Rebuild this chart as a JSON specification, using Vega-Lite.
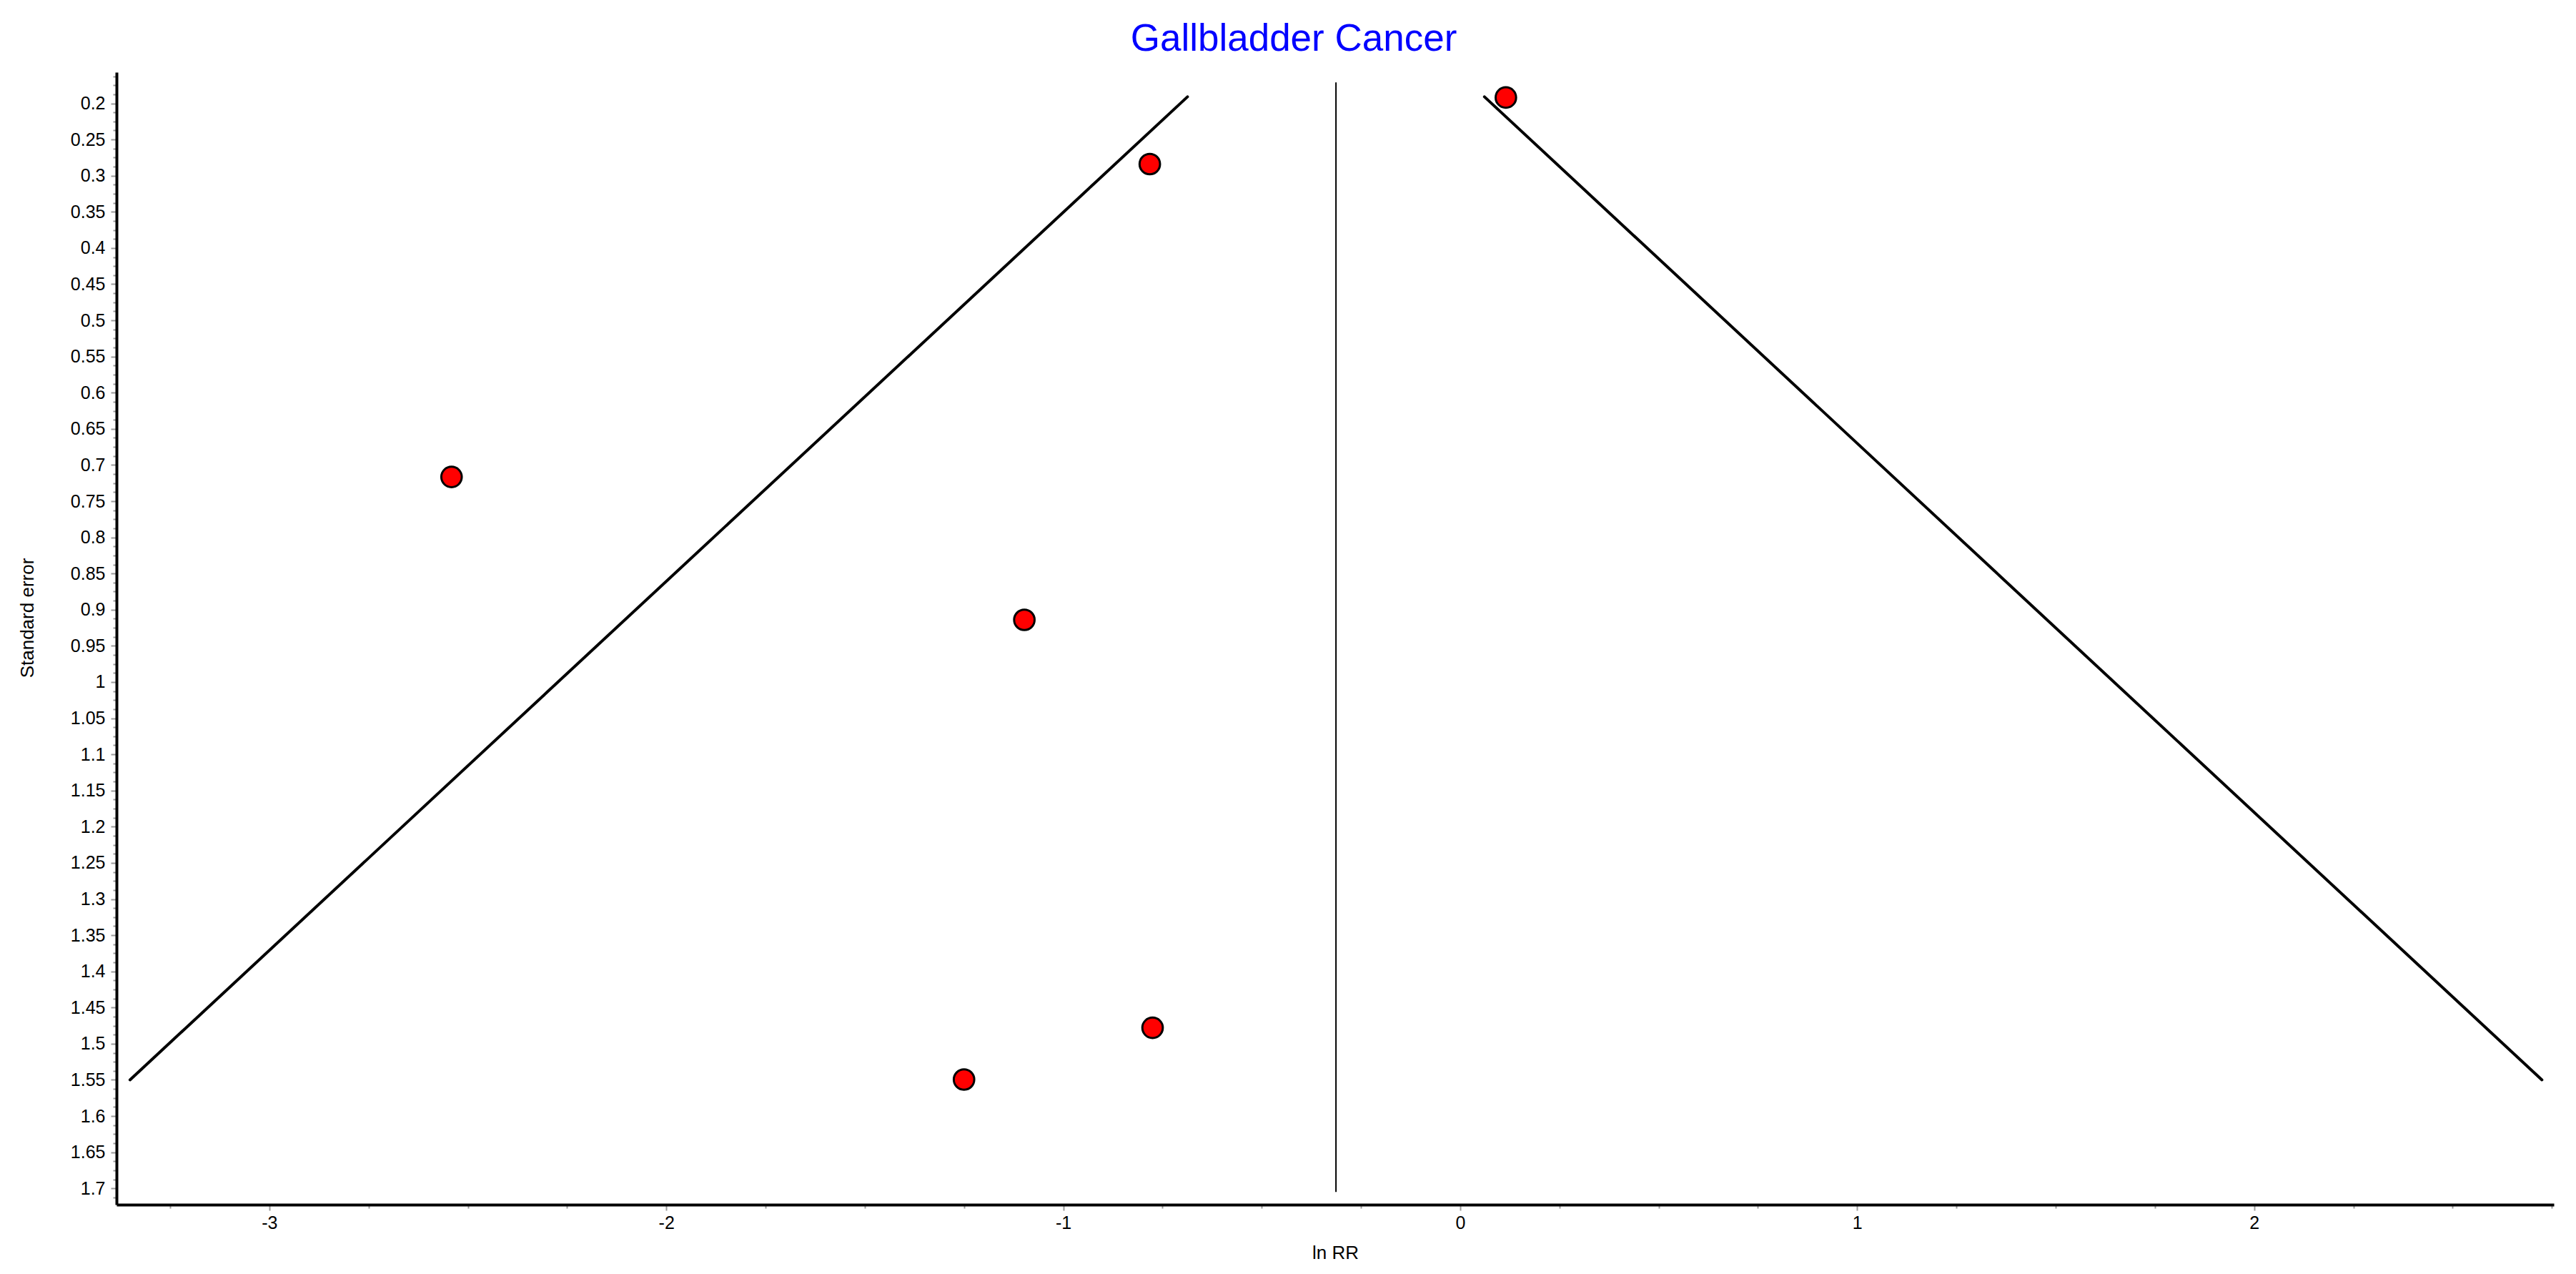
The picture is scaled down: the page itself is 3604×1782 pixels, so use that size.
{
  "$schema": "https://vega.github.io/schema/vega-lite/v6.json",
  "width": 3410,
  "height": 1584,
  "autosize": {"type": "none"},
  "padding": {"left": 163, "top": 101, "right": 31, "bottom": 97},
  "background": "white",
  "config": {
    "view": {"stroke": null},
    "font": "Liberation Sans",
    "axis": {"grid": false}
  },
  "title": {
    "text": "Gallbladder Cancer",
    "font": "Liberation Sans",
    "fontSize": 53,
    "fontWeight": "normal",
    "color": "#0000FF",
    "anchor": "middle",
    "baseline": "alphabetic",
    "offset": 27,
    "dx": -58,
    "dy": 50
  },
  "datasets": {
    "funnel": [
      {"x": -0.687, "se": 0.191, "x2": -3.351, "se2": 1.55},
      {"x": 0.061, "se": 0.191, "x2": 2.725, "se2": 1.55}
    ],
    "center": [
      {"x": -0.313, "se": 0.171, "se2": 1.705}
    ],
    "studies": [
      {"lnRR": 0.115, "se": 0.192},
      {"lnRR": -0.782, "se": 0.284},
      {"lnRR": -2.541, "se": 0.7165},
      {"lnRR": -1.098, "se": 0.914},
      {"lnRR": -0.775, "se": 1.478},
      {"lnRR": -1.25, "se": 1.5495}
    ]
  },
  "resolve": {"scale": {"x": "shared", "y": "shared"}, "axis": {"x": "independent", "y": "independent"}},
  "layer": [
    {
      "data": {"name": "funnel"},
      "mark": {"type": "rule", "color": "black", "strokeWidth": 4, "strokeCap": "round"},
      "encoding": {
        "x": {
          "field": "x", "type": "quantitative",
          "scale": {"domain": [-3.385, 2.755], "nice": false, "zero": false},
          "axis": {
            "orient": "bottom", "title": null, "domain": false, "labels": false, "grid": false,
            "ticks": true, "tickColor": "#9a9a9a", "tickSize": 5, "tickWidth": 2,
            "values": [-3.25, -2.75, -2.5, -2.25, -1.75, -1.5, -1.25, -0.75, -0.5, -0.25, 0.25, 0.5, 0.75, 1.25, 1.5, 1.75, 2.25, 2.5, 2.75]
          }
        },
        "x2": {"field": "x2"},
        "y": {
          "field": "se", "type": "quantitative",
          "scale": {"domain": [0.157, 1.7225], "reverse": true, "nice": false, "zero": false},
          "axis": {
            "orient": "left", "title": null, "domain": false, "labels": false, "grid": false,
            "ticks": true, "tickColor": "#9a9a9a", "tickSize": 5, "tickWidth": 2,
            "values": [0.1625, 0.175, 0.1875, 0.2125, 0.225, 0.2375, 0.2625, 0.275, 0.2875, 0.3125, 0.325, 0.3375, 0.3625, 0.375, 0.3875, 0.4125, 0.425, 0.4375, 0.4625, 0.475, 0.4875, 0.5125, 0.525, 0.5375, 0.5625, 0.575, 0.5875, 0.6125, 0.625, 0.6375, 0.6625, 0.675, 0.6875, 0.7125, 0.725, 0.7375, 0.7625, 0.775, 0.7875, 0.8125, 0.825, 0.8375, 0.8625, 0.875, 0.8875, 0.9125, 0.925, 0.9375, 0.9625, 0.975, 0.9875, 1.0125, 1.025, 1.0375, 1.0625, 1.075, 1.0875, 1.1125, 1.125, 1.1375, 1.1625, 1.175, 1.1875, 1.2125, 1.225, 1.2375, 1.2625, 1.275, 1.2875, 1.3125, 1.325, 1.3375, 1.3625, 1.375, 1.3875, 1.4125, 1.425, 1.4375, 1.4625, 1.475, 1.4875, 1.5125, 1.525, 1.5375, 1.5625, 1.575, 1.5875, 1.6125, 1.625, 1.6375, 1.6625, 1.675, 1.6875, 1.7125]
          }
        },
        "y2": {"field": "se2"}
      }
    },
    {
      "data": {"name": "center"},
      "mark": {"type": "rule", "color": "black", "strokeWidth": 2},
      "encoding": {
        "x": {"field": "x", "type": "quantitative", "scale": {"domain": [-3.385, 2.755], "nice": false, "zero": false}, "axis": null},
        "y": {"field": "se", "type": "quantitative", "scale": {"domain": [0.157, 1.7225], "reverse": true, "nice": false, "zero": false}, "axis": null},
        "y2": {"field": "se2"}
      }
    },
    {
      "data": {"name": "studies"},
      "mark": {"type": "point", "shape": "circle", "filled": true, "fill": "#FF0000", "stroke": "black", "strokeWidth": 3, "size": 820, "opacity": 1},
      "encoding": {
        "x": {
          "field": "lnRR", "type": "quantitative",
          "scale": {"domain": [-3.385, 2.755], "nice": false, "zero": false},
          "axis": {
            "orient": "bottom", "title": "ln RR", "grid": false,
            "values": [-3, -2, -1, 0, 1, 2],
            "labelExpr": "'' + datum.value",
            "domain": true, "domainColor": "black", "domainWidth": 4,
            "ticks": true, "tickColor": "#9a9a9a", "tickSize": 8, "tickWidth": 2,
            "labelFont": "Liberation Sans", "labelFontSize": 25, "labelColor": "black", "labelPadding": 5,
            "titleFont": "Liberation Sans", "titleFontSize": 26, "titleFontWeight": "normal", "titleColor": "black",
            "titleBaseline": "alphabetic", "titleY": 75
          }
        },
        "y": {
          "field": "se", "type": "quantitative",
          "scale": {"domain": [0.157, 1.7225], "reverse": true, "nice": false, "zero": false},
          "axis": {
            "orient": "left", "title": "Standard error", "grid": false,
            "values": [0.2, 0.25, 0.3, 0.35, 0.4, 0.45, 0.5, 0.55, 0.6, 0.65, 0.7, 0.75, 0.8, 0.85, 0.9, 0.95, 1, 1.05, 1.1, 1.15, 1.2, 1.25, 1.3, 1.35, 1.4, 1.45, 1.5, 1.55, 1.6, 1.65, 1.7],
            "labelExpr": "'' + datum.value",
            "domain": true, "domainColor": "black", "domainWidth": 4,
            "ticks": true, "tickColor": "#9a9a9a", "tickSize": 8, "tickWidth": 2,
            "labelFont": "Liberation Sans", "labelFontSize": 25, "labelColor": "black", "labelPadding": 8,
            "titleFont": "Liberation Sans", "titleFontSize": 26, "titleFontWeight": "normal", "titleColor": "black",
            "titleAngle": -90, "titleAlign": "center", "titleBaseline": "alphabetic", "titleX": -117, "titleY": 763
          }
        }
      }
    }
  ]
}
